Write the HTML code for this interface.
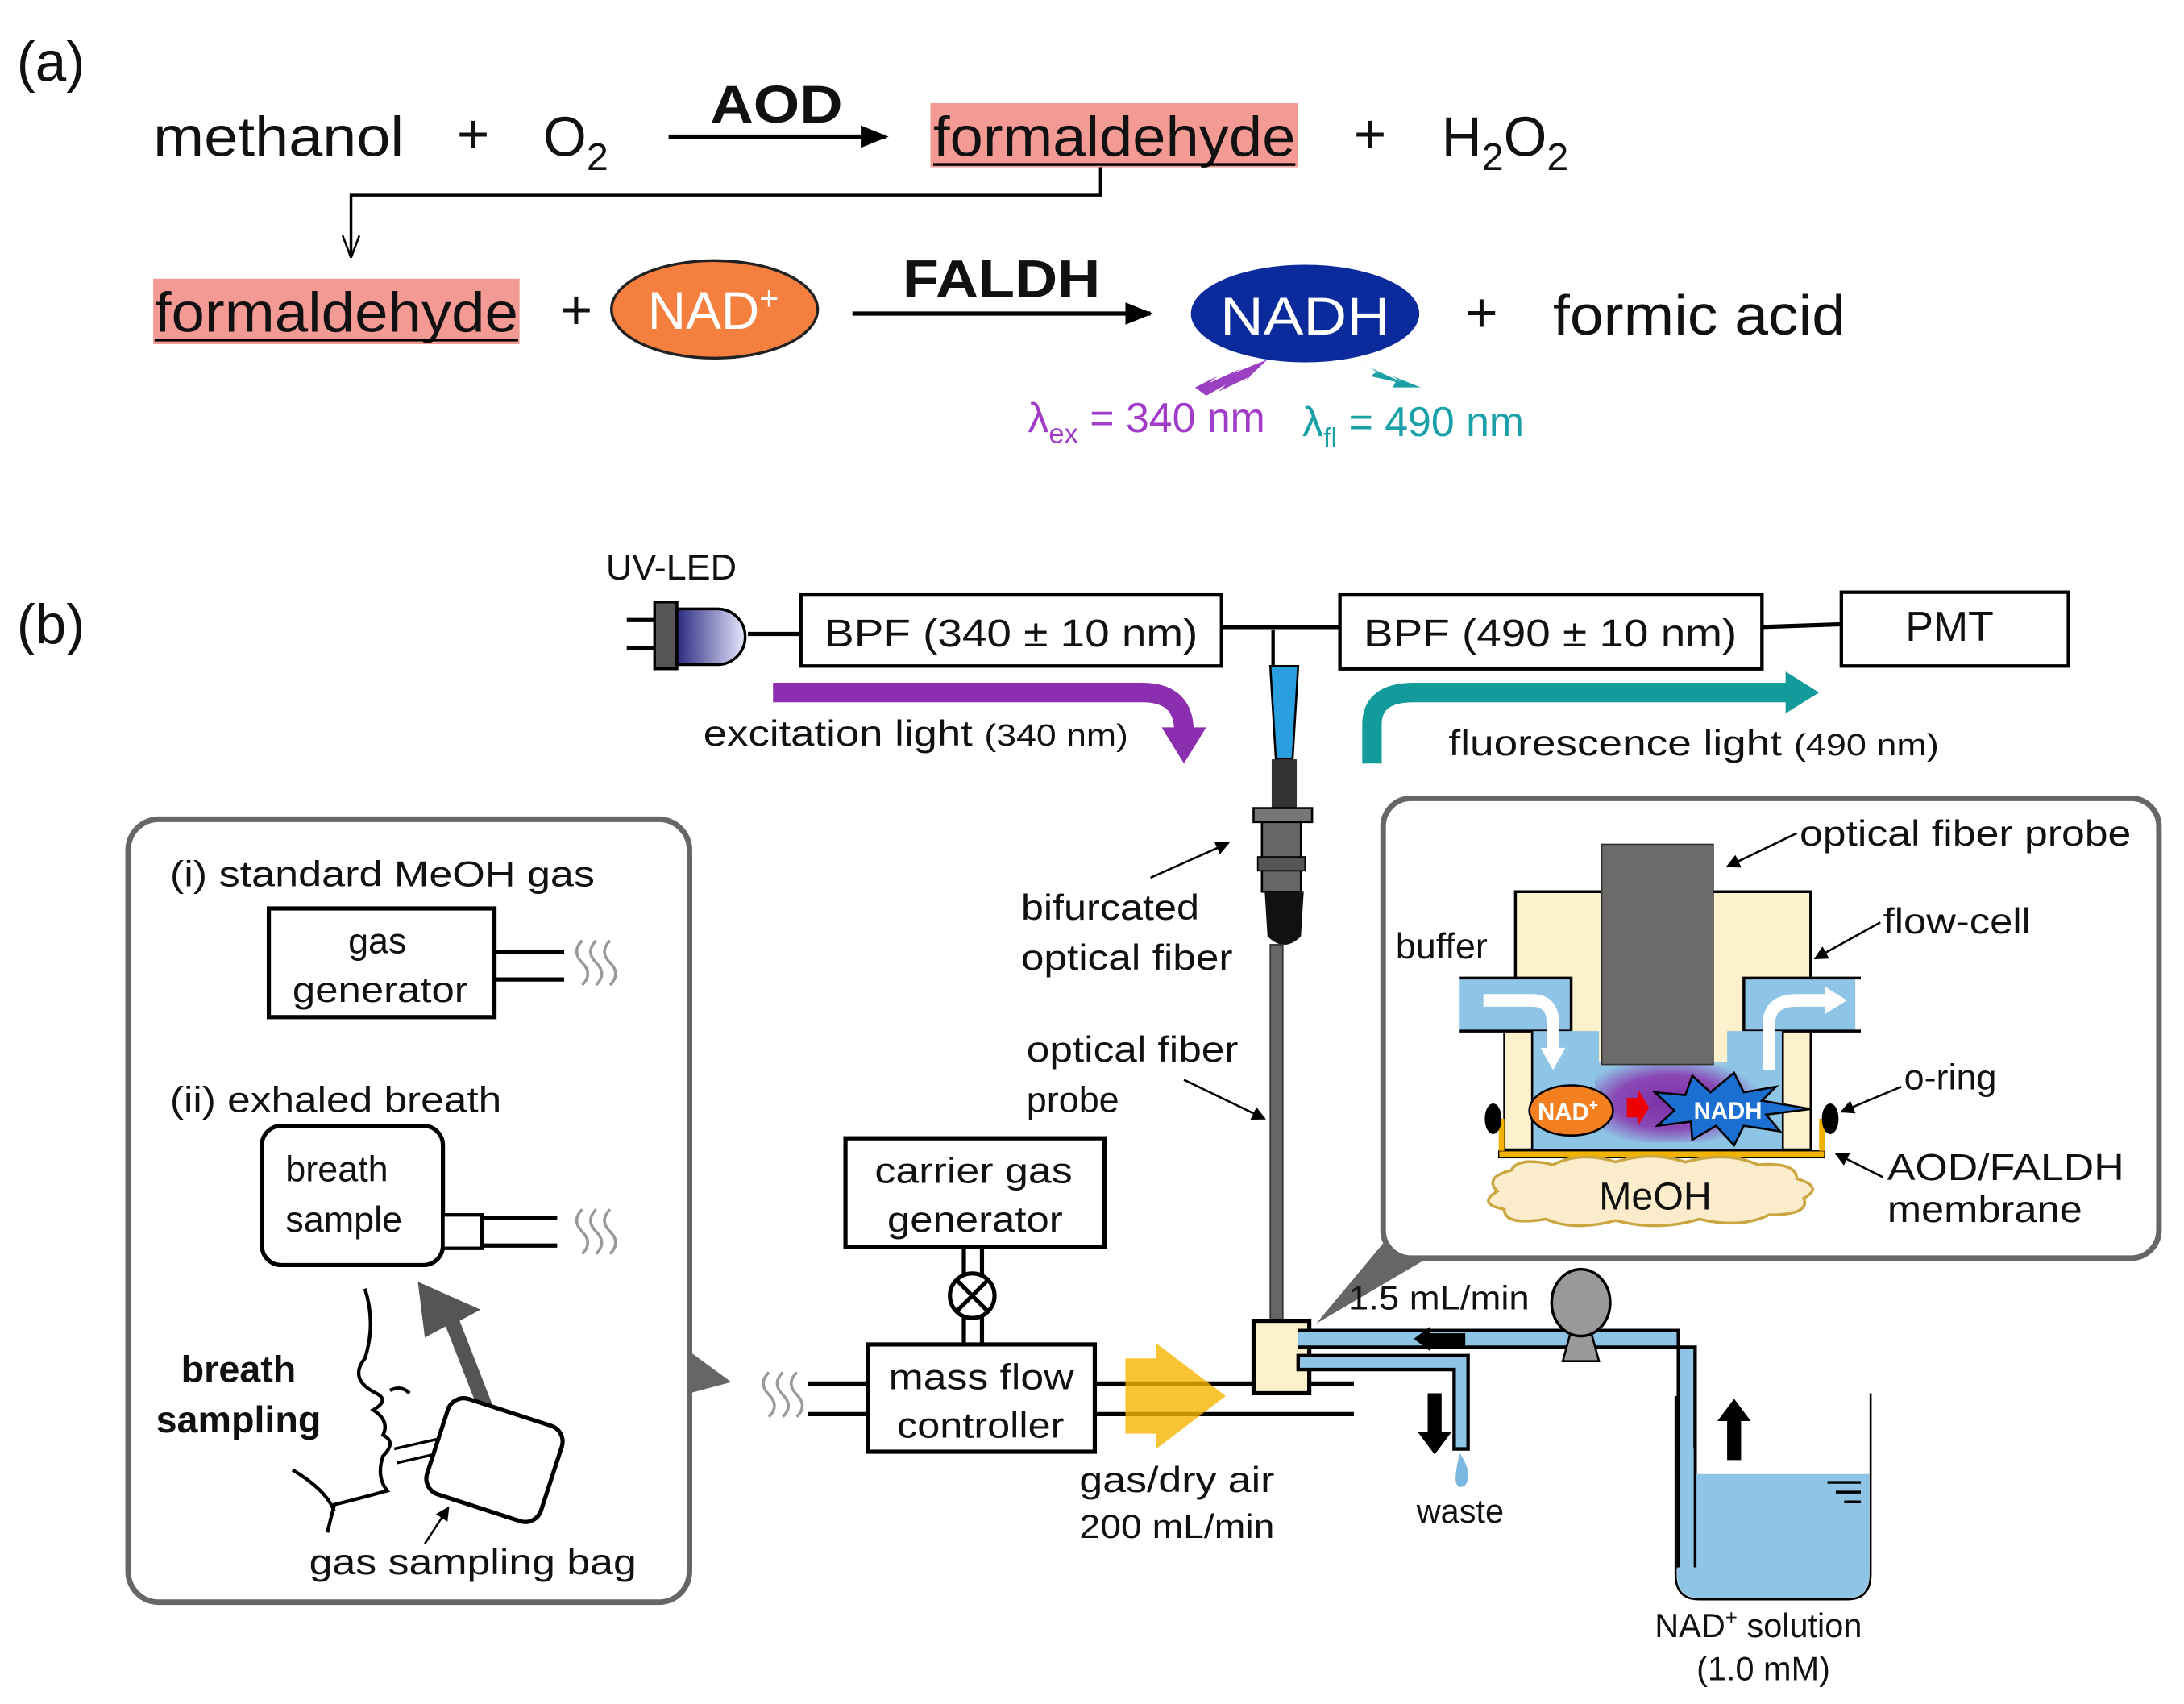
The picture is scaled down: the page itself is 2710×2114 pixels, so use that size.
<!DOCTYPE html>
<html><head><meta charset="utf-8"><style>
html,body{margin:0;padding:0;background:#fff}
svg{display:block}
text{font-family:"Liberation Sans",Arial,sans-serif;fill:#111}
</style></head><body>
<svg width="2710" height="2114" viewBox="0 0 1568 1223" xmlns="http://www.w3.org/2000/svg">
<defs>
<marker id="ah" markerWidth="10" markerHeight="10" refX="9" refY="5" orient="auto" markerUnits="userSpaceOnUse"><path d="M0,0 L10,5 L0,10 z" fill="#000"/></marker>
<marker id="ah2" markerWidth="20" markerHeight="16" refX="18" refY="8" orient="auto" markerUnits="userSpaceOnUse"><path d="M0,0 L20,8 L0,16 z" fill="#000"/></marker>
<marker id="ao" markerWidth="16" markerHeight="16" refX="15" refY="8" orient="auto" markerUnits="userSpaceOnUse"><path d="M0,2 L16,8 L0,14 M0,8 L16,8" stroke="#000" fill="none" stroke-width="1.5"/></marker>
<radialGradient id="pg" cx="0.45" cy="0.5" r="0.55"><stop offset="0" stop-color="#7a1fa0"/><stop offset="0.6" stop-color="#8a3ab0"/><stop offset="1" stop-color="#8ec4e6"/></radialGradient>
<linearGradient id="led" x1="0" x2="1"><stop offset="0" stop-color="#2a2a80"/><stop offset="1" stop-color="#e8e8ff"/></linearGradient>
</defs>

<!-- (a) -->
<text x="12" y="58" font-size="40">(a)</text>
<text x="110" y="112" font-size="40" textLength="180" lengthAdjust="spacingAndGlyphs">methanol</text>
<text x="328" y="110" font-size="40">+</text>
<text x="390" y="112" font-size="40">O<tspan font-size="28" dy="10">2</tspan></text>
<text x="510" y="88" font-size="38" font-weight="bold" textLength="95" lengthAdjust="spacingAndGlyphs">AOD</text>
<line x1="480" y1="98" x2="636" y2="98" stroke="#000" stroke-width="3" marker-end="url(#ah2)"/>
<rect x="668" y="74" width="264" height="46" fill="#f49a94"/>
<text x="670" y="112" font-size="40" textLength="260" lengthAdjust="spacingAndGlyphs">formaldehyde</text>
<line x1="670" y1="118" x2="930" y2="118" stroke="#000" stroke-width="2"/>
<text x="972" y="110" font-size="40">+</text>
<text x="1035" y="112" font-size="40">H<tspan font-size="28" dy="10">2</tspan><tspan dy="-10">O</tspan><tspan font-size="28" dy="10">2</tspan></text>
<polyline points="790,120 790,140 252,140 252,184" fill="none" stroke="#000" stroke-width="2" marker-end="url(#ao)"/>

<rect x="110" y="200" width="263" height="47" fill="#f49a94"/>
<text x="111" y="238" font-size="40" textLength="261" lengthAdjust="spacingAndGlyphs">formaldehyde</text>
<line x1="111" y1="244" x2="372" y2="244" stroke="#000" stroke-width="2"/>
<text x="402" y="236" font-size="40">+</text>
<ellipse cx="513" cy="222" rx="74" ry="35" fill="#f47f3f" stroke="#222" stroke-width="2"/>
<text x="465" y="236" font-size="38" style="fill:#fff">NAD<tspan font-size="24" dy="-14">+</tspan></text>
<text x="648" y="213" font-size="38" font-weight="bold" textLength="142" lengthAdjust="spacingAndGlyphs">FALDH</text>
<line x1="612" y1="225" x2="826" y2="225" stroke="#000" stroke-width="3" marker-end="url(#ah2)"/>
<ellipse cx="937" cy="225" rx="82" ry="35" fill="#0b2a9c"/>
<text x="876" y="240" font-size="38" style="fill:#fff" textLength="122" lengthAdjust="spacingAndGlyphs">NADH</text>
<text x="1052" y="238" font-size="40">+</text>
<text x="1115" y="240" font-size="40" textLength="210" lengthAdjust="spacingAndGlyphs">formic acid</text>
<path d="M910,258 L885,268 L892,264 L868,275 L874,270 L858,278 L866,284 L880,276 L875,281 L898,270 L892,275 Z" fill="#9b3fc2"/>
<path d="M968,256 L990,268 L984,264 L1006,274 L1000,270 L1020,278 L1000,278 L1002,274 L984,270 L988,267 Z" fill="#1a9fa4"/>
<text x="738" y="310" font-size="30" style="fill:#a03cc8">λ<tspan font-size="20" dy="8">ex</tspan><tspan dy="-8"> = 340 nm</tspan></text>
<text x="935" y="313" font-size="30" style="fill:#1aa0a8">λ<tspan font-size="20" dy="8">fl</tspan><tspan dy="-8"> = 490 nm</tspan></text>

<!-- (b) -->
<text x="12" y="462" font-size="40">(b)</text>
<text x="435" y="416" font-size="26">UV-LED</text>
<line x1="450" y1="445" x2="472" y2="445" stroke="#000" stroke-width="3"/>
<line x1="450" y1="465" x2="472" y2="465" stroke="#000" stroke-width="3"/>
<rect x="470" y="432" width="16" height="48" fill="#555" stroke="#000" stroke-width="2"/>
<path d="M486,437 L515,437 A20,20 0 0 1 515,477 L486,477 Z" fill="url(#led)" stroke="#000" stroke-width="2"/>
<line x1="537" y1="455" x2="575" y2="455" stroke="#000" stroke-width="3"/>
<rect x="575" y="427" width="302" height="51" fill="#fff" stroke="#000" stroke-width="2.5"/>
<text x="592" y="464" font-size="28" textLength="268" lengthAdjust="spacingAndGlyphs">BPF (340 ± 10 nm)</text>
<line x1="877" y1="450" x2="962" y2="450" stroke="#000" stroke-width="3"/>
<rect x="962" y="427" width="303" height="53" fill="#fff" stroke="#000" stroke-width="2.5"/>
<text x="979" y="464" font-size="28" textLength="268" lengthAdjust="spacingAndGlyphs">BPF (490 ± 10 nm)</text>
<line x1="1265" y1="450" x2="1322" y2="448" stroke="#000" stroke-width="3"/>
<rect x="1322" y="425" width="163" height="53" fill="#fff" stroke="#000" stroke-width="2.5"/>
<text x="1368" y="460" font-size="30">PMT</text>
<polyline points="914,452 914,478 M932,452 932,478" stroke="#000" stroke-width="2.5" fill="none"/>
<path d="M912,478 L932,478 L928,545 L916,545 Z" fill="#2a9fe0" stroke="#000" stroke-width="1.5"/>
<rect x="913" y="545" width="18" height="35" fill="#333"/>
<rect x="900" y="580" width="42" height="10" fill="#777" stroke="#000" stroke-width="1.5"/>
<rect x="906" y="590" width="28" height="50" fill="#666" stroke="#000" stroke-width="1.5"/>
<rect x="903" y="615" width="34" height="10" fill="#555" stroke="#000" stroke-width="1"/>
<path d="M908,640 L936,640 L934,672 Q922,684 910,672 Z" fill="#111"/>
<rect x="912" y="678" width="9" height="270" fill="#666" stroke="#333" stroke-width="1"/>

<!-- light arrows -->
<path d="M555,497 L820,497 Q850,497 850,525" fill="none" stroke="#8b2fb0" stroke-width="14"/>
<path d="M834,522 L866,522 L850,548 Z" fill="#8b2fb0"/>
<path d="M985,548 L985,520 Q985,497 1015,497 L1285,497" fill="none" stroke="#139a9a" stroke-width="14"/>
<path d="M1282,482 L1306,497 L1282,512 Z" fill="#139a9a"/>
<text x="505" y="535" font-size="26" textLength="305" lengthAdjust="spacingAndGlyphs">excitation light <tspan font-size="22">(340 nm)</tspan></text>
<text x="1040" y="542" font-size="26" textLength="352" lengthAdjust="spacingAndGlyphs">fluorescence light <tspan font-size="22">(490 nm)</tspan></text>

<text x="733" y="660" font-size="26" textLength="128" lengthAdjust="spacingAndGlyphs">bifurcated</text>
<text x="733" y="696" font-size="26" textLength="152" lengthAdjust="spacingAndGlyphs">optical fiber</text>
<line x1="826" y1="630" x2="882" y2="605" stroke="#000" stroke-width="1.5" marker-end="url(#ah)"/>
<text x="737" y="762" font-size="26" textLength="152" lengthAdjust="spacingAndGlyphs">optical fiber</text>
<text x="737" y="798" font-size="26">probe</text>
<line x1="850" y1="775" x2="908" y2="803" stroke="#000" stroke-width="1.5" marker-end="url(#ah)"/>

<!-- left box -->
<path d="M525,992 L495,970 L495,1000 Z" fill="#666"/>
<rect x="92" y="588" width="403" height="562" rx="22" fill="#fff" stroke="#666" stroke-width="4"/>
<text x="122" y="636" font-size="26" textLength="305" lengthAdjust="spacingAndGlyphs">(i) standard MeOH gas</text>
<rect x="193" y="652" width="162" height="78" fill="#fff" stroke="#000" stroke-width="3"/>
<text x="250" y="684" font-size="26">gas</text>
<text x="210" y="719" font-size="26" textLength="126" lengthAdjust="spacingAndGlyphs">generator</text>
<line x1="355" y1="683" x2="405" y2="683" stroke="#000" stroke-width="3"/>
<line x1="355" y1="703" x2="405" y2="703" stroke="#000" stroke-width="3"/>
<g fill="none" stroke="#999" stroke-width="2"><path d="M418,675 q-8,8 0,16 q8,8 0,16"/><path d="M428,675 q-8,8 0,16 q8,8 0,16"/><path d="M438,675 q-8,8 0,16 q8,8 0,16"/></g>
<text x="122" y="798" font-size="26" textLength="238" lengthAdjust="spacingAndGlyphs">(ii) exhaled breath</text>
<rect x="188" y="808" width="130" height="100" rx="14" fill="#fff" stroke="#000" stroke-width="3"/>
<text x="205" y="848" font-size="26">breath</text>
<text x="205" y="884" font-size="26">sample</text>
<rect x="318" y="872" width="28" height="24" fill="#fff" stroke="#000" stroke-width="2.5"/>
<line x1="346" y1="874" x2="400" y2="874" stroke="#000" stroke-width="3"/>
<line x1="346" y1="894" x2="400" y2="894" stroke="#000" stroke-width="3"/>
<g fill="none" stroke="#999" stroke-width="2"><path d="M418,868 q-8,8 0,16 q8,8 0,16"/><path d="M428,868 q-8,8 0,16 q8,8 0,16"/><path d="M438,868 q-8,8 0,16 q8,8 0,16"/></g>
<path d="M300,920 L345,940 L330,948 L355,1012 L345,1016 L320,952 L305,960 Z" fill="#555"/>
<text x="130" y="992" font-size="27" font-weight="bold">breath</text>
<text x="112" y="1028" font-size="27" font-weight="bold">sampling</text>
<path d="M262,925 Q270,950 262,975 Q250,990 270,1000 Q280,1005 268,1012 Q280,1020 275,1030 Q285,1035 275,1045 Q270,1060 278,1070 Q260,1075 240,1080 L235,1100 M210,1055 Q235,1070 240,1085" fill="none" stroke="#000" stroke-width="2.5"/>
<path d="M280,998 q8,-4 14,2" fill="none" stroke="#000" stroke-width="2.5"/>
<line x1="283" y1="1040" x2="318" y2="1032" stroke="#000" stroke-width="2"/>
<line x1="285" y1="1050" x2="320" y2="1042" stroke="#000" stroke-width="2"/>
<rect x="312" y="1012" width="86" height="72" rx="12" transform="rotate(18 355 1048)" fill="#fff" stroke="#000" stroke-width="3"/>
<text x="222" y="1130" font-size="26" textLength="235" lengthAdjust="spacingAndGlyphs">gas sampling bag</text>
<line x1="305" y1="1108" x2="322" y2="1082" stroke="#000" stroke-width="1.5" marker-end="url(#ah)"/>

<!-- inset -->
<path d="M945,950 L995,890 L1025,903 Z" fill="#666"/>
<rect x="993" y="573" width="557" height="330" rx="20" fill="#fff" stroke="#666" stroke-width="4"/>
<rect x="1048" y="702" width="284" height="38" fill="#8ec4e6"/>
<path d="M1088,640 L1300,640 L1300,702 L1252,702 L1252,740 L1280,740 L1280,825 L1100,825 L1100,740 L1128,740 L1128,702 L1088,702 Z" fill="#fdf0cc" stroke="#000" stroke-width="2"/>
<path d="M1148,740 L1148,765 L1240,765 L1240,740 L1280,740 L1280,825 L1100,825 L1100,740 Z" fill="#8ec4e6"/>
<rect x="1145" y="762" width="120" height="58" fill="url(#pg)" opacity="0.9"/>
<path d="M1088,740 L1100,740 L1100,825 L1080,825 L1080,740 Z M1280,740 L1300,740 L1300,825 L1280,825 Z" fill="#fdf0cc" stroke="#000" stroke-width="1.5"/>
<line x1="1048" y1="702" x2="1088" y2="702" stroke="#000" stroke-width="2"/>
<line x1="1048" y1="740" x2="1100" y2="740" stroke="#000" stroke-width="2"/>
<line x1="1300" y1="702" x2="1336" y2="702" stroke="#000" stroke-width="2"/>
<line x1="1280" y1="740" x2="1336" y2="740" stroke="#000" stroke-width="2"/>
<rect x="1150" y="606" width="80" height="158" fill="#6d6a6a" stroke="#333" stroke-width="1"/>
<path d="M1065,718 L1100,718 Q1115,718 1115,735 L1115,755" fill="none" stroke="#fff" stroke-width="9"/>
<path d="M1106,752 L1124,752 L1115,768 Z" fill="#fff"/>
<path d="M1270,768 L1270,735 Q1270,718 1290,718 L1312,718" fill="none" stroke="#fff" stroke-width="9"/>
<path d="M1310,708 L1326,718 L1310,728 Z" fill="#fff"/>
<rect x="1076" y="826" width="234" height="5" fill="#f2b200" stroke="#000" stroke-width="0.8"/>
<line x1="1078" y1="803" x2="1078" y2="826" stroke="#f2b200" stroke-width="4"/>
<line x1="1308" y1="803" x2="1308" y2="826" stroke="#f2b200" stroke-width="4"/>
<ellipse cx="1072" cy="803" rx="6" ry="11" fill="#000"/>
<ellipse cx="1314" cy="803" rx="6" ry="11" fill="#000"/>
<ellipse cx="1128" cy="797" rx="30" ry="18" fill="#f47f20" stroke="#000" stroke-width="1.5"/>
<text x="1104" y="804" font-size="17" font-weight="bold" style="fill:#fff">NAD<tspan font-size="11" dy="-7">+</tspan></text>
<path d="M1168,788 L1176,788 L1176,782 L1184,795 L1176,808 L1176,802 L1168,802 Z" fill="#e00"/>
<path d="M1188,784 L1210,786 L1215,772 L1228,784 L1245,770 L1252,784 L1275,780 L1265,790 L1300,796 L1268,800 L1278,812 L1252,808 L1245,822 L1232,808 L1215,818 L1214,805 L1190,808 L1202,797 Z" fill="#1b6fd1" stroke="#000" stroke-width="1.5"/>
<text x="1216" y="803" font-size="17" font-weight="bold" style="fill:#fff">NADH</text>
<path d="M1075,855 Q1065,845 1085,840 Q1090,830 1115,836 Q1135,826 1160,834 Q1185,826 1210,834 Q1240,826 1262,836 Q1290,834 1290,846 Q1310,852 1295,860 Q1300,872 1270,872 Q1250,882 1220,875 Q1190,884 1160,876 Q1130,884 1110,875 Q1080,880 1080,868 Q1060,864 1075,855 Z" fill="#fbeccb" stroke="#c9a640" stroke-width="2"/>
<text x="1148" y="868" font-size="28">MeOH</text>
<text x="1292" y="607" font-size="26" textLength="238" lengthAdjust="spacingAndGlyphs">optical fiber probe</text>
<line x1="1290" y1="598" x2="1240" y2="622" stroke="#000" stroke-width="1.5" marker-end="url(#ah)"/>
<text x="1352" y="670" font-size="26" textLength="106" lengthAdjust="spacingAndGlyphs">flow-cell</text>
<line x1="1350" y1="662" x2="1303" y2="688" stroke="#000" stroke-width="1.5" marker-end="url(#ah)"/>
<text x="1002" y="688" font-size="26">buffer</text>
<text x="1367" y="782" font-size="26">o-ring</text>
<line x1="1365" y1="780" x2="1322" y2="798" stroke="#000" stroke-width="1.5" marker-end="url(#ah)"/>
<text x="1355" y="847" font-size="27" textLength="170" lengthAdjust="spacingAndGlyphs">AOD/FALDH</text>
<text x="1355" y="877" font-size="27" textLength="140" lengthAdjust="spacingAndGlyphs">membrane</text>
<line x1="1352" y1="845" x2="1318" y2="828" stroke="#000" stroke-width="1.5" marker-end="url(#ah)"/>

<!-- middle apparatus -->
<rect x="607" y="817" width="186" height="78" fill="#fff" stroke="#000" stroke-width="3"/>
<text x="628" y="849" font-size="26" textLength="142" lengthAdjust="spacingAndGlyphs">carrier gas</text>
<text x="637" y="884" font-size="26" textLength="126" lengthAdjust="spacingAndGlyphs">generator</text>
<line x1="692" y1="895" x2="692" y2="965" stroke="#000" stroke-width="3"/>
<line x1="705" y1="895" x2="705" y2="965" stroke="#000" stroke-width="3"/>
<circle cx="698" cy="930" r="16" fill="#fff" stroke="#000" stroke-width="3"/>
<path d="M687,919 L709,941 M709,919 L687,941" stroke="#000" stroke-width="3"/>
<rect x="623" y="965" width="163" height="77" fill="#fff" stroke="#000" stroke-width="3"/>
<text x="638" y="997" font-size="26" textLength="133" lengthAdjust="spacingAndGlyphs">mass flow</text>
<text x="644" y="1032" font-size="26" textLength="120" lengthAdjust="spacingAndGlyphs">controller</text>
<line x1="580" y1="993" x2="623" y2="993" stroke="#000" stroke-width="3"/>
<line x1="580" y1="1015" x2="623" y2="1015" stroke="#000" stroke-width="3"/>
<g fill="none" stroke="#999" stroke-width="2"><path d="M552,985 q-8,8 0,16 q8,8 0,16"/><path d="M562,985 q-8,8 0,16 q8,8 0,16"/><path d="M572,985 q-8,8 0,16 q8,8 0,16"/></g>
<line x1="786" y1="993" x2="972" y2="993" stroke="#000" stroke-width="3"/>
<line x1="786" y1="1015" x2="972" y2="1015" stroke="#000" stroke-width="3"/>
<path d="M808,975 L830,975 L830,964 L880,1002 L830,1040 L830,1029 L808,1029 Z" fill="#f7b500" opacity="0.8"/>
<text x="775" y="1071" font-size="26" textLength="140" lengthAdjust="spacingAndGlyphs">gas/dry air</text>
<text x="775" y="1104" font-size="24" textLength="140" lengthAdjust="spacingAndGlyphs">200 mL/min</text>
<rect x="900" y="948" width="40" height="52" fill="#fdf0cc" stroke="#000" stroke-width="3"/>
<path d="M932,955 L1205,955 L1205,1125 L1217,1125 L1217,967 L932,967" fill="#8ec4e6" stroke="#000" stroke-width="2.5"/>
<path d="M932,973 L1054,973 L1054,1040 L1044,1040 L1044,983 L932,983 Z" fill="#8ec4e6" stroke="#000" stroke-width="2.5"/>
<path d="M1015,961 L1027,952 L1027,957 L1052,957 L1052,966 L1027,966 L1027,970 Z" fill="#000"/>
<path d="M1048,1043 Q1058,1058 1052,1066 Q1046,1070 1045,1062 Q1045,1055 1048,1043 Z" fill="#7ab8e0"/>
<path d="M1025,1000 L1035,1000 L1035,1028 L1042,1028 L1030,1044 L1018,1028 L1025,1028 Z" fill="#000"/>
<text x="1017" y="1093" font-size="24">waste</text>
<text x="968" y="940" font-size="24" textLength="130" lengthAdjust="spacingAndGlyphs">1.5 mL/min</text>
<path d="M1122,977 L1128,955 L1142,955 L1148,977 Z" fill="#999" stroke="#000" stroke-width="1.5"/>
<ellipse cx="1135" cy="935" rx="21" ry="24" fill="#999" stroke="#000" stroke-width="2"/>
<path d="M1203,1002 L1203,1130 Q1203,1148 1220,1148 L1326,1148 Q1343,1148 1343,1130 L1343,1000" fill="none" stroke="#000" stroke-width="1.5"/>
<path d="M1204,1058 L1342,1058 L1342,1130 Q1342,1147 1326,1147 L1220,1147 Q1204,1147 1204,1130 Z" fill="#8ec4e6"/>
<rect x="1205" y="1040" width="12" height="85" fill="#8ec4e6"/>
<line x1="1205" y1="1040" x2="1205" y2="1125" stroke="#000" stroke-width="2"/>
<line x1="1217" y1="1040" x2="1217" y2="1125" stroke="#000" stroke-width="2"/>
<path d="M1240,1048 L1250,1048 L1250,1020 L1257,1020 L1245,1004 L1233,1020 L1240,1020 Z" fill="#000"/>
<line x1="1312" y1="1064" x2="1336" y2="1064" stroke="#000" stroke-width="2"/>
<line x1="1318" y1="1071" x2="1336" y2="1071" stroke="#000" stroke-width="2"/>
<line x1="1324" y1="1078" x2="1336" y2="1078" stroke="#000" stroke-width="2"/>
<text x="1188" y="1175" font-size="24">NAD<tspan font-size="15" dy="-9">+</tspan><tspan dy="9"> solution</tspan></text>
<text x="1218" y="1206" font-size="24">(1.0 mM)</text>
</svg>
</body></html>
